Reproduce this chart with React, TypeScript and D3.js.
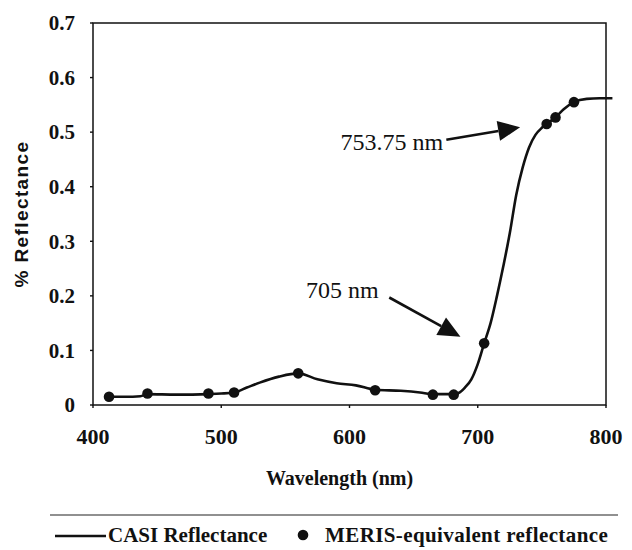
import { useEffect, useRef } from "react";
import * as d3 from "d3";

// CASI spectrum (continuous line)
const casiWavelength = [
  412.5, 425, 437, 442.5, 465, 490, 500, 510, 520, 530, 545, 560, 575, 590, 605,
  620, 640, 655, 665, 681.25, 685, 690, 695, 700, 705, 710, 715, 720, 725, 730,
  735, 740, 745, 750, 753.75, 760.625, 767, 775, 785, 795, 805,
];
const casiReflectance = [
  0.015, 0.015, 0.016, 0.02, 0.019, 0.02, 0.021, 0.023, 0.032, 0.041, 0.052, 0.058,
  0.047, 0.04, 0.036, 0.028, 0.026, 0.023, 0.02, 0.02, 0.022, 0.032, 0.047, 0.075,
  0.113, 0.15, 0.2, 0.255, 0.315, 0.385, 0.435, 0.472, 0.495, 0.508, 0.515, 0.527,
  0.542, 0.555, 0.561, 0.562, 0.562,
];

// MERIS band centres and equivalent reflectance
const merisWavelength = [412.5, 442.5, 490, 510, 560, 620, 665, 681.25, 705, 753.75, 760.625, 775];
const merisReflectance = [0.015, 0.021, 0.021, 0.023, 0.058, 0.027, 0.019, 0.019, 0.113, 0.515, 0.527, 0.555];

const xTicks = [400, 500, 600, 700, 800];
const yTicks = [0, 0.1, 0.2, 0.3, 0.4, 0.5, 0.6, 0.7];
const yTickLabels = ["0", "0.1", "0.2", "0.3", "0.4", "0.5", "0.6", "0.7"];

const annotationLabels = ["753.75 nm", "705 nm"];

const width = 632;
const height = 550;

const MARGIN = { top: 23, right: 26, bottom: 145, left: 93 };

const SERIF = "'Liberation Serif', 'Times New Roman', serif";
const SANS = "'Liberation Sans', Arial, sans-serif";

function App() {
  const svgRef = useRef(null);

  useEffect(() => {
    drawChart();
  }, []);

  const boundedWidth = width - MARGIN.left - MARGIN.right;
  const boundedHeight = height - MARGIN.top - MARGIN.bottom;

  const drawChart = () => {
    const svg = d3.select(svgRef.current);
    svg.selectAll("*").remove();

    const xScale = d3.scaleLinear().domain([400, 800]).range([MARGIN.left, MARGIN.left + boundedWidth]);
    const yScale = d3.scaleLinear().domain([0, 0.7]).range([MARGIN.top + boundedHeight, MARGIN.top]);

    // frame
    svg.append("rect")
      .attr("x", MARGIN.left)
      .attr("y", MARGIN.top)
      .attr("width", boundedWidth)
      .attr("height", boundedHeight)
      .attr("fill", "none")
      .attr("stroke", "#111")
      .attr("stroke-width", 1.5);

    // y ticks + labels
    yTicks.forEach((t, i) => {
      svg.append("line")
        .attr("x1", MARGIN.left - 3).attr("x2", MARGIN.left)
        .attr("y1", yScale(t)).attr("y2", yScale(t))
        .attr("stroke", "#111").attr("stroke-width", 1.4);
      svg.append("text")
        .attr("x", 75)
        .attr("y", yScale(t))
        .attr("dy", "0.35em")
        .attr("text-anchor", "end")
        .attr("font-family", SERIF)
        .attr("font-weight", "bold")
        .attr("font-size", 21)
        .attr("fill", "#111")
        .text(yTickLabels[i]);
    });

    // x ticks + labels
    xTicks.forEach((t) => {
      svg.append("line")
        .attr("x1", xScale(t)).attr("x2", xScale(t))
        .attr("y1", MARGIN.top + boundedHeight).attr("y2", MARGIN.top + boundedHeight + 3)
        .attr("stroke", "#111").attr("stroke-width", 1.4);
      svg.append("text")
        .attr("x", xScale(t))
        .attr("y", 444)
        .attr("text-anchor", "middle")
        .attr("font-family", SERIF)
        .attr("font-weight", "bold")
        .attr("font-size", 22)
        .attr("fill", "#111")
        .text(t);
    });

    // axis titles
    svg.append("text")
      .attr("transform", "translate(28, 214) rotate(-90)")
      .attr("text-anchor", "middle")
      .attr("font-family", SANS)
      .attr("font-weight", "bold")
      .attr("font-size", 19)
      .attr("letter-spacing", 1.4)
      .attr("fill", "#111")
      .text("% Reflectance");

    svg.append("text")
      .attr("x", xScale(600) - 10)
      .attr("y", 485)
      .attr("text-anchor", "middle")
      .attr("font-family", SERIF)
      .attr("font-weight", "bold")
      .attr("font-size", 20)
      .attr("fill", "#111")
      .text("Wavelength (nm)");

    // CASI line
    const casi = casiWavelength.map((w, i) => [w, casiReflectance[i]]);
    const line = d3.line()
      .x((d) => xScale(d[0]))
      .y((d) => yScale(d[1]))
      .curve(d3.curveMonotoneX);

    svg.append("path")
      .datum(casi)
      .attr("fill", "none")
      .attr("stroke", "#111")
      .attr("stroke-width", 2.6)
      .attr("stroke-linejoin", "round")
      .attr("d", line);

    // MERIS dots
    svg.selectAll(".meris")
      .data(merisWavelength)
      .enter()
      .append("circle")
      .attr("class", "meris")
      .attr("cx", (d) => xScale(d))
      .attr("cy", (d, i) => yScale(merisReflectance[i]))
      .attr("r", 5.3)
      .attr("fill", "#111");

    // annotations with arrows
    const drawArrow = (x1, y1, x2, y2) => {
      const ang = Math.atan2(y2 - y1, x2 - x1);
      const len = 22;
      const hw = 10;
      const bx = x2 - len * Math.cos(ang);
      const by = y2 - len * Math.sin(ang);
      svg.append("line")
        .attr("x1", x1).attr("y1", y1)
        .attr("x2", bx).attr("y2", by)
        .attr("stroke", "#111")
        .attr("stroke-width", 2.6);
      const pts = [
        [x2, y2],
        [bx + hw * Math.sin(ang), by - hw * Math.cos(ang)],
        [bx - hw * Math.sin(ang), by + hw * Math.cos(ang)],
      ];
      svg.append("polygon")
        .attr("points", pts.map((p) => p.join(",")).join(" "))
        .attr("fill", "#111");
    };

    svg.append("text")
      .attr("x", xScale(673))
      .attr("y", yScale(0.467))
      .attr("text-anchor", "end")
      .attr("font-family", SERIF)
      .attr("font-size", 24)
      .attr("fill", "#111")
      .text(annotationLabels[0]);
    drawArrow(xScale(675.5), yScale(0.486), xScale(733), yScale(0.509));

    svg.append("text")
      .attr("x", xScale(566))
      .attr("y", yScale(0.196))
      .attr("text-anchor", "start")
      .attr("font-family", SERIF)
      .attr("font-size", 24)
      .attr("fill", "#111")
      .text(annotationLabels[1]);
    drawArrow(xScale(631), yScale(0.197), xScale(686.5), yScale(0.125));

    // legend
    svg.append("line")
      .attr("x1", 50).attr("x2", 618)
      .attr("y1", 515).attr("y2", 515)
      .attr("stroke", "#222")
      .attr("stroke-width", 1.2);

    svg.append("line")
      .attr("x1", 55).attr("x2", 106)
      .attr("y1", 536).attr("y2", 536)
      .attr("stroke", "#111")
      .attr("stroke-width", 2.6);
    svg.append("text")
      .attr("x", 108)
      .attr("y", 542)
      .attr("font-family", SERIF)
      .attr("font-weight", "bold")
      .attr("font-size", 21)
      .attr("fill", "#111")
      .text("CASI Reflectance");

    svg.append("circle")
      .attr("cx", 303)
      .attr("cy", 535)
      .attr("r", 5.3)
      .attr("fill", "#111");
    svg.append("text")
      .attr("x", 325)
      .attr("y", 542)
      .attr("font-family", SERIF)
      .attr("font-weight", "bold")
      .attr("font-size", 21)
      .attr("letter-spacing", 0.4)
      .attr("fill", "#111")
      .text("MERIS-equivalent reflectance");
  };

  return (
    <div style={{ position: "absolute", left: 0, top: 0 }}>
      <svg width={width} height={height} ref={svgRef} style={{ display: "block", background: "#fff" }}></svg>
    </div>
  );
}

export default App;
